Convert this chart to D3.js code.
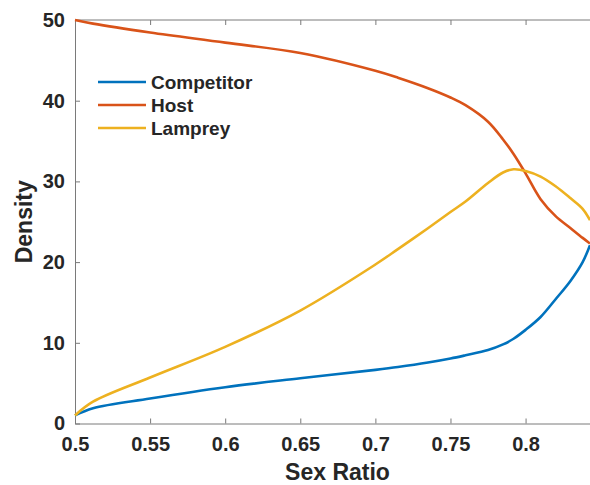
<!DOCTYPE html>
<html>
<head>
<meta charset="utf-8">
<script src="https://cdn.jsdelivr.net/npm/d3@7"></script>
<style>
  body { margin: 0; background: #fff; }
  text { font-family: "Liberation Sans", Arial, sans-serif; font-weight: bold; fill: #262626; }
</style>
</head>
<body>
<div id="chart"></div>
<script>
// sex ratio sample points
var ratio      = [0.5, 0.512, 0.55, 0.6, 0.65, 0.7, 0.715, 0.735, 0.75, 0.76, 0.775, 0.785, 0.792, 0.8, 0.81, 0.82, 0.83, 0.838, 0.8429];
var competitor = [1.0, 1.9, 3.1, 4.5, 5.6, 6.65, 7.0, 7.55, 8.05, 8.45, 9.1, 9.8, 10.5, 11.6, 13.2, 15.4, 17.7, 20.0, 22.1];
var host       = [50, 49.55, 48.45, 47.2, 45.9, 43.7, 42.85, 41.55, 40.4, 39.45, 37.4, 35.2, 33.4, 31.0, 27.8, 25.7, 24.2, 23.0, 22.3];
var lamprey    = [1.0, 2.7, 5.7, 9.5, 14.0, 19.7, 21.6, 24.2, 26.2, 27.5, 29.8, 31.1, 31.5, 31.3, 30.6, 29.4, 27.9, 26.6, 25.2];
var seriesNames = ["Competitor", "Host", "Lamprey"];
var xTicks = [0.5, 0.55, 0.6, 0.65, 0.7, 0.75, 0.8];
var yTicks = [0, 10, 20, 30, 40, 50];

var W = 590, H = 485;
var margin = {top: 20, right: 0, bottom: 61.5, left: 75};
var width = W - margin.left - margin.right,
    height = H - margin.top - margin.bottom;

var svg = d3.select("#chart").append("svg")
    .attr("width", W)
    .attr("height", H)
  .append("g")
    .attr("transform", "translate(" + margin.left + "," + margin.top + ")");

var x = d3.scaleLinear().domain([0.5, 0.8429]).range([0, width]);
var y = d3.scaleLinear().domain([0, 50]).range([height, 0]);

var color = d3.scaleOrdinal().domain(seriesNames).range(["#0072BD", "#D95319", "#EDB120"]);
var axisColor = "#7a7a7a";

// box: top line (right edge falls off the picture)
svg.append("line").attr("x1", 0).attr("x2", width).attr("y1", 0).attr("y2", 0)
  .attr("stroke", axisColor);

// bottom axis, ticks pointing inward
svg.append("g")
  .attr("transform", "translate(0," + height + ")")
  .call(d3.axisBottom(x).tickValues(xTicks).tickSize(-5).tickSizeOuter(0).tickPadding(13)
    .tickFormat(function(d) { return String(d); }));
// matching ticks on the top edge
svg.append("g")
  .call(d3.axisTop(x).tickValues(xTicks).tickSize(-5).tickSizeOuter(0).tickFormat(""))
  .select(".domain").remove();

svg.append("g")
  .call(d3.axisLeft(y).tickValues(yTicks).tickSize(-5).tickSizeOuter(0).tickPadding(10));

svg.selectAll(".domain").attr("stroke", axisColor);
svg.selectAll(".tick line").attr("stroke", axisColor);
svg.selectAll(".tick text").style("font-size", "20px").attr("fill", "#262626");

// lines
var data = {Competitor: competitor, Host: host, Lamprey: lamprey};
var line = d3.line()
  .x(function(d) { return x(d[0]); })
  .y(function(d) { return y(d[1]); })
  .curve(d3.curveCatmullRom.alpha(0.5));

seriesNames.forEach(function(name) {
  var pts = ratio.map(function(r, i) { return [r, data[name][i]]; });
  svg.append("path")
    .datum(pts)
    .attr("fill", "none")
    .attr("stroke", color(name))
    .attr("stroke-width", 2.6)
    .attr("d", line);
});

// axis labels
svg.append("text")
  .attr("x", width / 2 + 5)
  .attr("y", height + 56)
  .attr("text-anchor", "middle")
  .style("font-size", "23px")
  .text("Sex Ratio");

svg.append("text")
  .attr("transform", "translate(-43," + (height / 2) + ") rotate(-90)")
  .attr("text-anchor", "middle")
  .style("font-size", "23px")
  .text("Density");

// legend (no box)
var legend = svg.append("g").attr("transform", "translate(23,62)");
seriesNames.forEach(function(name, i) {
  var g = legend.append("g").attr("transform", "translate(0," + (i * 23) + ")");
  g.append("line").attr("x1", 0).attr("x2", 48).attr("y1", 0).attr("y2", 0)
    .attr("stroke", color(name)).attr("stroke-width", 2.6);
  g.append("text").attr("x", 53).attr("y", 7).style("font-size", "19px").text(name);
});
</script>
</body>
</html>
